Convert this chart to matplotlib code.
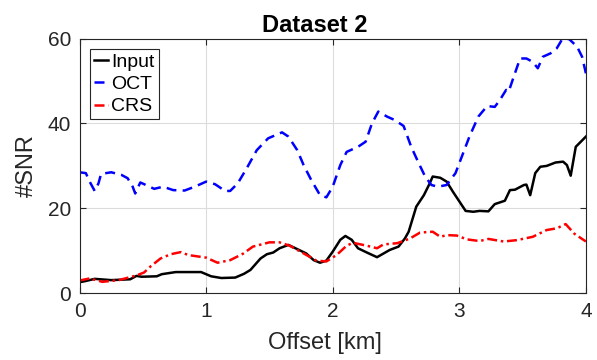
import matplotlib
matplotlib.use("Agg")
import matplotlib.pyplot as plt

plt.rcParams['font.family'] = ['Liberation Sans', 'DejaVu Sans']

# Input (black solid)
in_x = [0.00, 0.05, 0.12, 0.25, 0.40, 0.45, 0.49, 0.61, 0.65, 0.76, 0.96, 1.04, 1.12, 1.23,
        1.30, 1.35, 1.43, 1.48, 1.53, 1.58, 1.65, 1.72, 1.79, 1.85, 1.90, 1.95, 2.00, 2.06,
        2.10, 2.15, 2.20, 2.27, 2.35, 2.45, 2.52, 2.57, 2.60, 2.66, 2.72, 2.76, 2.79, 2.85,
        2.90, 2.95, 3.01, 3.05, 3.11, 3.16, 3.23, 3.28, 3.36, 3.40, 3.44, 3.51, 3.53, 3.56,
        3.60, 3.64, 3.69, 3.76, 3.82, 3.85, 3.88, 3.92, 4.00]
in_y = [2.6, 2.9, 3.4, 3.1, 3.3, 4.1, 3.9, 4.0, 4.5, 5.0, 5.0, 4.0, 3.6, 3.7,
        4.6, 5.5, 8.2, 9.2, 9.6, 10.6, 11.4, 10.4, 9.4, 7.8, 7.2, 7.7, 9.8, 12.6,
        13.5, 12.6, 10.6, 9.6, 8.5, 10.2, 11.0, 12.9, 14.5, 20.4, 23.1, 25.5, 27.5, 27.2,
        26.3, 23.9, 21.2, 19.4, 19.2, 19.4, 19.3, 21.0, 21.8, 24.3, 24.4, 25.5, 25.6, 23.1,
        28.3, 29.8, 30.0, 30.8, 31.0, 30.2, 27.7, 34.5, 36.9]

# OCT (blue dashed)
oct_x = [0.00, 0.05, 0.08, 0.12, 0.15, 0.17, 0.25, 0.33, 0.38, 0.42, 0.44, 0.48, 0.51, 0.59,
         0.66, 0.74, 0.83, 0.91, 1.00, 1.07, 1.15, 1.19, 1.25, 1.32, 1.40, 1.49, 1.60, 1.65,
         1.72, 1.77, 1.83, 1.90, 1.95, 2.00, 2.06, 2.11, 2.20, 2.26, 2.31, 2.36, 2.43, 2.49,
         2.56, 2.62, 2.68, 2.73, 2.78, 2.83, 2.90, 2.97, 3.02, 3.08, 3.15, 3.22, 3.28, 3.32,
         3.37, 3.39, 3.43, 3.48, 3.53, 3.58, 3.62, 3.66, 3.72, 3.77, 3.82, 3.87, 3.93, 3.97, 4.00]
oct_y = [28.5, 28.3, 26.3, 24.1, 25.9, 28.1, 28.5, 27.9, 27.1, 25.1, 23.5, 26.1, 25.7, 24.6,
         25.1, 24.3, 24.2, 25.1, 26.3, 25.7, 24.1, 24.1, 25.9, 29.4, 33.7, 36.5, 37.9, 36.9,
         33.7, 30.2, 26.7, 23.1, 22.6, 25.1, 30.2, 33.3, 34.5, 35.7, 40.0, 42.8, 41.6, 40.8,
         39.4, 34.5, 30.6, 27.5, 25.5, 25.1, 25.5, 28.3, 32.2, 36.9, 41.6, 44.1, 43.9, 45.5,
         47.9, 47.5, 51.0, 55.3, 55.3, 54.5, 53.0, 55.7, 56.5, 57.7, 60.2, 59.8, 58.1, 55.7, 51.8]

# CRS (red dash-dot)
crs_x = [0.00, 0.08, 0.18, 0.31, 0.45, 0.51, 0.56, 0.64, 0.72, 0.80, 0.86, 1.00, 1.09, 1.19,
         1.29, 1.37, 1.50, 1.58, 1.66, 1.77, 1.87, 1.95, 2.03, 2.11, 2.16, 2.27, 2.35, 2.40,
         2.51, 2.61, 2.69, 2.79, 2.85, 2.90, 2.98, 3.06, 3.16, 3.23, 3.35, 3.45, 3.58, 3.69,
         3.77, 3.84, 3.91, 4.00]
crs_y = [3.0, 3.5, 2.7, 3.1, 4.2, 4.9, 6.3, 8.2, 9.2, 9.7, 9.0, 8.4, 7.2, 7.8,
         9.3, 11.0, 12.0, 12.0, 11.2, 9.4, 7.7, 7.5, 9.0, 11.2, 11.9, 11.2, 10.6, 11.5,
         11.8, 12.9, 14.3, 14.5, 13.3, 13.7, 13.6, 12.7, 12.3, 12.8, 12.2, 12.5, 13.3, 14.9,
         15.3, 16.3, 14.0, 12.2]

x_ticks = [0, 1, 2, 3, 4]
y_ticks = [0, 20, 40, 60]

fig = plt.figure(figsize=(5.97, 3.6), dpi=100)
ax = fig.add_axes([0.1332, 0.1853, 0.8482, 0.7077])

ax.plot(in_x, in_y, color='black', lw=1.8, label='Input')
ax.plot(oct_x, oct_y, color='blue', lw=1.8, ls=(0, (4, 2.5)), label='OCT')
ax.plot(crs_x, crs_y, color='red', lw=1.8, ls=(0, (4, 1.5, 1, 1.5)), label='CRS')

ax.set_xlim(0, 4)
ax.set_ylim(0, 60)
ax.set_xticks(x_ticks)
ax.set_yticks(y_ticks)
ax.grid(True, color='#dcdcdc', lw=0.8)
ax.set_axisbelow(True)
ax.tick_params(direction='in', top=True, right=True, labelsize=15, length=4,
               color='#262626', labelcolor='#262626')
ax.tick_params(axis='x', pad=6)
ax.tick_params(axis='y', pad=6)
for s in ax.spines.values():
    s.set_color('#262626')
    s.set_linewidth(0.8)

ax.set_xlabel('Offset [km]', fontsize=17, color='#262626')
ax.xaxis.set_label_coords(0.485, -0.15)
ax.set_ylabel('#SNR', fontsize=17, color='#262626')
ax.yaxis.set_label_coords(-0.082, 0.5)
ax.set_title('Dataset 2', fontsize=17, fontweight='bold', x=0.465, pad=5)

leg = ax.legend(loc='upper left', bbox_to_anchor=(0.0207, 0.9588), borderaxespad=0,
                fontsize=14, handlelength=0.75, handletextpad=0.15,
                borderpad=0.2, labelspacing=0.25, fancybox=False, framealpha=1)
leg.get_frame().set_edgecolor('#262626')
leg.get_frame().set_linewidth(0.8)

fig.savefig('out.png', dpi=100)
